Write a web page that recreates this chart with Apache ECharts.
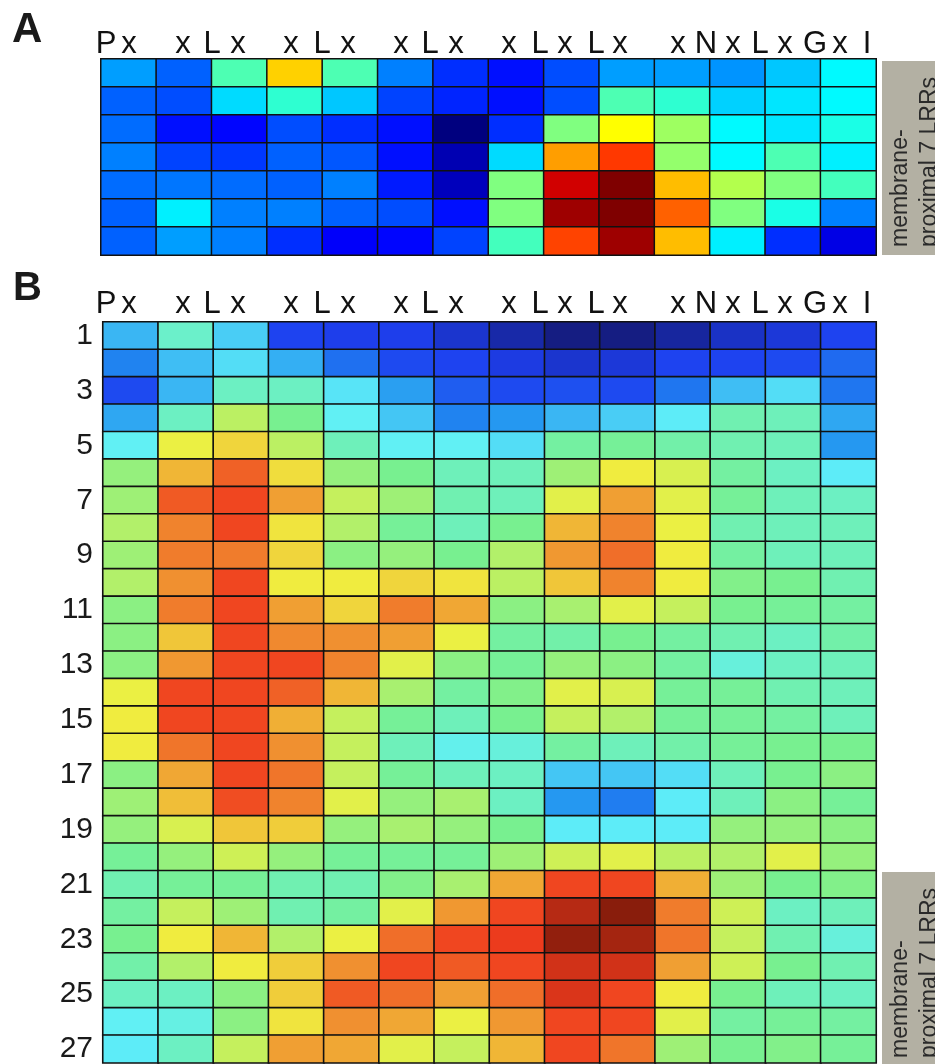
<!DOCTYPE html>
<html>
<head>
<meta charset="utf-8">
<script src="https://cdn.jsdelivr.net/npm/echarts@6/dist/echarts.min.js"></script>
<style>
html,body{margin:0;padding:0;background:#fff;}
#chart{width:935px;height:1064px;}
</style>
</head>
<body>
<div id="chart"></div>
<script>
// ---- data ----
const columns = ['1','2','3','4','5','6','7','8','9','10','11','12','13','14'];
const rowsA = ['1','2','3','4','5','6','7'];
const rowsB = ['1','2','3','4','5','6','7','8','9','10','11','12','13','14','15','16','17','18','19','20','21','22','23','24','25','26','27'];
const headerLetters = ['P','x','x','L','x','x','L','x','x','L','x','x','L','x','L','x','x','N','x','L','x','G','x','I'];
const boxLabel = 'membrane-\nproximal 7 LRRs';
const panelLabels = ['A','B'];

const valuesA = [
  [0.28,0.22,0.45,0.67,0.45,0.25,0.17,0.14,0.20,0.28,0.28,0.27,0.32,0.37],
  [0.22,0.20,0.34,0.42,0.32,0.19,0.16,0.14,0.20,0.45,0.42,0.33,0.35,0.37],
  [0.23,0.14,0.13,0.20,0.17,0.14,0.00,0.17,0.50,0.625,0.53,0.37,0.35,0.40],
  [0.25,0.19,0.18,0.22,0.21,0.14,0.05,0.34,0.72,0.82,0.52,0.37,0.45,0.36],
  [0.23,0.24,0.23,0.22,0.25,0.15,0.06,0.50,0.92,1.00,0.69,0.55,0.50,0.44],
  [0.22,0.36,0.25,0.25,0.22,0.20,0.14,0.50,0.97,1.00,0.78,0.50,0.40,0.25],
  [0.22,0.28,0.25,0.17,0.12,0.13,0.19,0.44,0.81,0.97,0.69,0.36,0.17,0.10]
];

const valuesB = [
  [0.30,0.43,0.33,0.13,0.12,0.12,0.09,0.05,0.01,0.01,0.04,0.08,0.10,0.13],
  [0.23,0.31,0.35,0.29,0.20,0.14,0.13,0.11,0.09,0.10,0.13,0.13,0.14,0.19],
  [0.14,0.30,0.44,0.44,0.36,0.27,0.17,0.14,0.15,0.14,0.21,0.31,0.35,0.21],
  [0.28,0.44,0.57,0.50,0.38,0.32,0.23,0.26,0.30,0.33,0.37,0.46,0.45,0.28],
  [0.38,0.62,0.66,0.57,0.45,0.38,0.38,0.35,0.48,0.49,0.47,0.46,0.45,0.26],
  [0.53,0.70,0.82,0.65,0.53,0.50,0.45,0.45,0.54,0.63,0.60,0.48,0.44,0.37],
  [0.54,0.83,0.86,0.73,0.58,0.54,0.46,0.45,0.61,0.73,0.61,0.49,0.45,0.44],
  [0.56,0.77,0.86,0.64,0.56,0.49,0.45,0.50,0.70,0.77,0.62,0.46,0.45,0.45],
  [0.54,0.78,0.78,0.66,0.52,0.53,0.50,0.56,0.74,0.80,0.63,0.48,0.45,0.45],
  [0.56,0.75,0.86,0.63,0.63,0.66,0.64,0.57,0.68,0.77,0.63,0.51,0.50,0.46],
  [0.52,0.78,0.86,0.73,0.66,0.78,0.72,0.52,0.55,0.61,0.58,0.50,0.49,0.48],
  [0.52,0.68,0.86,0.76,0.75,0.73,0.62,0.48,0.47,0.50,0.48,0.46,0.44,0.47],
  [0.52,0.74,0.86,0.86,0.77,0.61,0.52,0.49,0.53,0.52,0.48,0.41,0.44,0.45],
  [0.62,0.86,0.86,0.82,0.70,0.55,0.48,0.51,0.61,0.60,0.49,0.49,0.46,0.45],
  [0.63,0.86,0.86,0.71,0.58,0.49,0.45,0.50,0.58,0.56,0.49,0.49,0.48,0.45],
  [0.63,0.79,0.86,0.75,0.58,0.45,0.39,0.41,0.48,0.45,0.47,0.49,0.50,0.50],
  [0.52,0.72,0.86,0.79,0.58,0.49,0.45,0.44,0.32,0.32,0.35,0.45,0.50,0.52],
  [0.54,0.69,0.85,0.77,0.61,0.53,0.55,0.44,0.26,0.22,0.37,0.45,0.52,0.49],
  [0.53,0.60,0.68,0.67,0.53,0.55,0.53,0.50,0.37,0.37,0.37,0.53,0.53,0.52],
  [0.49,0.53,0.59,0.53,0.49,0.49,0.49,0.54,0.59,0.61,0.57,0.56,0.61,0.53],
  [0.46,0.49,0.49,0.46,0.46,0.51,0.55,0.72,0.86,0.86,0.71,0.54,0.50,0.51],
  [0.48,0.58,0.54,0.46,0.48,0.61,0.74,0.86,0.94,0.99,0.78,0.59,0.44,0.45],
  [0.50,0.63,0.70,0.56,0.62,0.80,0.86,0.88,0.98,0.96,0.79,0.58,0.46,0.41],
  [0.47,0.56,0.63,0.67,0.75,0.86,0.83,0.86,0.91,0.91,0.73,0.59,0.50,0.46],
  [0.44,0.44,0.52,0.67,0.83,0.80,0.73,0.80,0.90,0.86,0.63,0.50,0.45,0.44],
  [0.38,0.40,0.52,0.64,0.75,0.72,0.62,0.74,0.86,0.86,0.61,0.48,0.49,0.48],
  [0.37,0.44,0.58,0.73,0.72,0.61,0.58,0.70,0.86,0.79,0.54,0.50,0.51,0.49]
];

// ---- build ----
function toCells(rows) {
  const out = [];
  rows.forEach((r, ri) => r.forEach((v, ci) => out.push([ci, ri, v])));
  return out;
}

const jetA = ['#00007f','#0000ff','#0080ff','#00ffff','#80ff80','#ffff00','#ff8000','#ff0000','#7f0000'];
const jetB = ['#141a78','#1e40f0','#2090f0','#60f0f8','#78f090','#f0f040','#f09030','#f03c1e','#801a0a'];

const headerX = [106,129, 183,212,238, 291,322,348, 401,430,456, 509,540,565,596,620, 678,706,733,760,785,815,840,867];

function headerGraphics(baselineY) {
  return headerLetters.map((ch, i) => ({
    type: 'text', x: headerX[i], y: baselineY,
    style: { text: ch, fill: '#111', font: '31px "Liberation Sans", Arial, sans-serif', align: 'center', verticalAlign: 'middle' }
  }));
}

const chart = echarts.init(document.getElementById('chart'), null, { renderer: 'canvas' });

const option = {
  backgroundColor: '#ffffff',
  animation: false,
  grid: [
    { left: 101, top: 59, width: 775, height: 196 },
    { left: 103, top: 322, width: 773, height: 742 }
  ],
  xAxis: [
    { type: 'category', data: columns, gridIndex: 0, show: false },
    { type: 'category', data: columns, gridIndex: 1, show: false }
  ],
  yAxis: [
    { type: 'category', data: rowsA, gridIndex: 0, inverse: true, show: false },
    { type: 'category', data: rowsB, gridIndex: 1, inverse: true,
      axisLine: { show: false }, axisTick: { show: false }, splitLine: { show: false },
      axisLabel: { interval: 1, margin: 10, color: '#1a1a1a', fontSize: 30,
        fontFamily: '"Liberation Sans", Arial, sans-serif' } }
  ],
  visualMap: [
    { type: 'continuous', show: false, min: 0, max: 1, seriesIndex: 0, dimension: 2, inRange: { color: jetA } },
    { type: 'continuous', show: false, min: 0, max: 1, seriesIndex: 1, dimension: 2, inRange: { color: jetB } }
  ],
  series: [
    { type: 'heatmap', xAxisIndex: 0, yAxisIndex: 0, data: toCells(valuesA),
      itemStyle: { borderColor: '#111', borderWidth: 1.5 }, emphasis: { disabled: true } },
    { type: 'heatmap', xAxisIndex: 1, yAxisIndex: 1, data: toCells(valuesB),
      itemStyle: { borderColor: '#111', borderWidth: 1.6 }, emphasis: { disabled: true } }
  ],
  graphic: [
    { type: 'text', x: 12, y: 30, style: { text: panelLabels[0], fill: '#1a1a1a', font: 'bold 42px "Liberation Sans", Arial, sans-serif', align: 'left', verticalAlign: 'middle' } },
    { type: 'text', x: 13, y: 289, style: { text: panelLabels[1], fill: '#1a1a1a', font: 'bold 40px "Liberation Sans", Arial, sans-serif', align: 'left', verticalAlign: 'middle' } },
    ...headerGraphics(44),
    ...headerGraphics(304),
    { type: 'rect', shape: { x: 882, y: 61, width: 60, height: 194 }, style: { fill: '#b3b0a3' } },
    { type: 'rect', shape: { x: 882, y: 872, width: 60, height: 200 }, style: { fill: '#b3b0a3' } },
    { type: 'text', x: 886, y: 247, rotation: Math.PI / 2,
      style: { text: boxLabel, fill: '#2a2a2a', font: '23px "Liberation Sans", Arial, sans-serif', lineHeight: 29, align: 'left', verticalAlign: 'top' } },
    { type: 'text', x: 886, y: 1058, rotation: Math.PI / 2,
      style: { text: boxLabel, fill: '#2a2a2a', font: '23px "Liberation Sans", Arial, sans-serif', lineHeight: 29, align: 'left', verticalAlign: 'top' } }
  ]
};

chart.setOption(option);
</script>
</body>
</html>
